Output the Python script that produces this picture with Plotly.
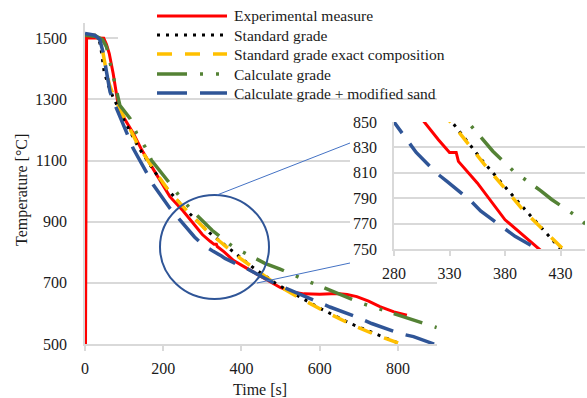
import plotly.graph_objects as go

W, H = 587, 398

# ---------------- data ----------------
exp_t = [0, 4, 48, 55, 62, 72, 83, 98, 123, 145, 166, 190, 217, 251, 280, 300, 320, 330, 336, 338,
         355, 380, 412, 440, 470, 499, 530, 560, 600, 644, 670, 695, 725, 754, 790, 823]
exp_T = [20, 1502, 1500, 1480, 1450, 1385, 1297, 1243, 1190, 1135, 1090, 1040, 982, 935, 890, 858, 836, 826, 826, 819,
         802, 773, 749, 729, 706, 685, 670, 664, 663, 665, 662, 655, 640, 622, 605, 594]

std_t = [0, 20, 35, 40, 49, 60, 71, 98, 136, 175, 213, 256, 318, 334, 361, 397, 428, 490, 547, 605, 682, 743, 803]
std_T = [1510, 1512, 1500, 1474, 1390, 1345, 1310, 1237, 1145, 1069, 1003, 941, 864, 848, 818, 782, 752, 696, 655, 614, 565, 533, 502]

sec_t = [0, 25, 38, 45, 52, 62, 75, 100, 136, 175, 213, 256, 318, 334, 361, 397, 430, 490, 547, 605, 682, 743, 808]
sec_T = [1510, 1510, 1495, 1460, 1410, 1350, 1305, 1240, 1150, 1072, 1003, 942, 862, 847, 817, 780, 750, 694, 652, 612, 563, 530, 500]

cal_t = [0, 30, 45, 55, 64, 72, 89, 115, 132, 153, 170, 217, 243, 271, 298, 325, 352, 369, 388, 401, 412, 422,
         444, 460, 499, 531, 565, 605, 642, 710, 750, 788, 827, 899]
cal_T = [1510, 1506, 1495, 1472, 1422, 1374, 1281, 1238, 1189, 1146, 1101, 1025, 981, 940, 905, 872, 845, 827, 811, 803, 796, 789,
         776, 764, 745, 726, 708, 687, 668, 632, 616, 600, 584, 554]

mod_t = [0, 25, 38, 47, 55, 64, 77, 94, 107, 123, 158, 175, 217, 243, 280, 300, 318, 328, 349, 358, 379, 389,
         409, 425, 460, 494, 524, 592, 626, 699, 733, 806, 840, 899]
mod_T = [1516, 1510, 1495, 1450, 1390, 1325, 1281, 1232, 1190, 1140, 1058, 1020, 944, 905, 850, 826, 810, 803, 788, 780, 767, 760,
         750, 738, 715, 693, 676, 638, 621, 586, 567, 534, 524, 497]

names = ["Experimental measure", "Standard grade", "Standard grade exact composition",
         "Calculate grade", "Calculate grade + modified sand"]
xs = [exp_t, std_t, sec_t, cal_t, mod_t]
ys = [exp_T, std_T, sec_T, cal_T, mod_T]
colors = ["#FF0000", "#000000", "#FFC000", "#548235", "#2F5597"]
dashes = ["solid", "3px,6px", "15px,13px", "30px,13px,3px,13px,3px,12px", "30px,13px"]
widths = [3, 3, 3.5, 3.5, 3.5]

main_xticks = [0, 200, 400, 600, 800]
main_yticks = [500, 700, 900, 1100, 1300, 1500]
inset_xticks = [280, 330, 380, 430]
inset_yticks = [750, 770, 790, 810, 830, 850]

# ---------------- layout geometry ----------------
MX0, MX1, MY0, MY1 = 85, 437, 344, 23          # main plot area (px)
IX0, IX1, IY0, IY1 = 394, 585, 249, 122        # inset plot area (px)
XR = [0, 900]
YR = [500, 1550]

def px_x(p):
    return XR[0] + (p - MX0) / (MX1 - MX0) * (XR[1] - XR[0])

def px_y(p):
    return YR[0] + (MY0 - p) / (MY0 - MY1) * (YR[1] - YR[0])

FONT = "Liberation Serif"
TXT = "#1a1a1a"
GRID = "#D9D9D9"

fig = go.Figure()
for n, x, y, c, d, w in zip(names, xs, ys, colors, dashes, widths):
    fig.add_trace(go.Scatter(x=x, y=y, mode="lines", name=n, showlegend=False,
                             line=dict(color=c, dash=d, width=w), xaxis="x", yaxis="y"))
for n, x, y, c, d, w in zip(names, xs, ys, colors, dashes, widths):
    fig.add_trace(go.Scatter(x=x, y=y, mode="lines", name=n, showlegend=False,
                             line=dict(color=c, dash=d, width=w), xaxis="x2", yaxis="y2"))

shapes = []
# white boxes hiding main gridlines behind the legend and the inset labels
shapes.append(dict(type="rect", xref="x", yref="y", x0=px_x(118), x1=900, y0=px_y(97), y1=1550,
                   fillcolor="white", line=dict(width=0), layer="between"))
shapes.append(dict(type="rect", xref="x", yref="y", x0=px_x(350), x1=900, y0=px_y(280), y1=px_y(103),
                   fillcolor="white", line=dict(width=0), layer="between"))
# zoom circle and connectors
shapes.append(dict(type="circle", xref="x", yref="y", x0=px_x(160), x1=px_x(269), y0=px_y(299), y1=px_y(195),
                   line=dict(color="#2F5597", width=2), layer="above"))
shapes.append(dict(type="line", xref="x", yref="y", x0=px_x(217), y0=px_y(195), x1=px_x(350), y1=px_y(143),
                   line=dict(color="#4472C4", width=1), layer="above"))
shapes.append(dict(type="line", xref="x", yref="y", x0=px_x(257), y0=px_y(283), x1=px_x(350), y1=px_y(263),
                   line=dict(color="#4472C4", width=1), layer="above"))

annotations = []
# manual legend
rows = [16, 35, 54, 74, 93]
for n, c, d, w, r in zip(names, colors, dashes, widths, rows):
    shapes.append(dict(type="line", xref="paper", yref="paper", x0=157 / W, x1=227 / W,
                       y0=1 - r / H, y1=1 - r / H, line=dict(color=c, dash=d, width=w), layer="above"))
    annotations.append(dict(xref="paper", yref="paper", x=232 / W, y=1 - r / H, text=n, showarrow=False,
                            xanchor="left", yanchor="middle", font=dict(family=FONT, size=15.5, color=TXT)))

# axis titles
annotations.append(dict(xref="paper", yref="paper", x=22 / W, y=1 - 190 / H, text="Temperature [°C]",
                        textangle=-90, showarrow=False, xanchor="center", yanchor="middle",
                        font=dict(family=FONT, size=16, color=TXT)))
annotations.append(dict(xref="paper", yref="paper", x=260 / W, y=1 - 389 / H, text="Time [s]",
                        showarrow=False, xanchor="center", yanchor="middle",
                        font=dict(family=FONT, size=16, color=TXT)))

tickfont = dict(family=FONT, size=16, color=TXT)

fig.update_layout(
    width=W, height=H, margin=dict(l=0, r=0, t=0, b=0, autoexpand=False),
    paper_bgcolor="white", plot_bgcolor="white",
    showlegend=False,
    shapes=shapes, annotations=annotations,
    xaxis=dict(domain=[MX0 / W, MX1 / W], range=XR, tickvals=main_xticks, showgrid=False,
               showline=True, linecolor=GRID, linewidth=1.5, ticks="outside", ticklen=5,
               tickcolor=GRID, tickwidth=1.5, zeroline=False, tickfont=tickfont, anchor="y",
               ticklabelstandoff=4, automargin=False),
    yaxis=dict(domain=[1 - MY0 / H, 1 - MY1 / H], range=YR, tickvals=main_yticks, showgrid=True,
               gridcolor=GRID, gridwidth=1.5, showline=True, linecolor=GRID, linewidth=1.5,
               ticks="", zeroline=False, tickfont=tickfont, anchor="x", ticklabelstandoff=13,
               automargin=False),
    xaxis2=dict(domain=[IX0 / W, IX1 / W], range=[280, 452], tickvals=inset_xticks, showgrid=False,
                showline=True, linecolor=GRID, linewidth=1.5, ticks="outside", ticklen=5,
                tickcolor=GRID, tickwidth=1.5, zeroline=False, tickfont=tickfont, anchor="y2",
                ticklabelstandoff=4, automargin=False),
    yaxis2=dict(domain=[1 - IY0 / H, 1 - IY1 / H], range=[750, 850], tickvals=inset_yticks, showgrid=True,
                gridcolor=GRID, gridwidth=1.5, showline=True, linecolor=GRID, linewidth=1.5,
                ticks="", zeroline=False, tickfont=tickfont, anchor="x2", ticklabelstandoff=12,
                automargin=False),
)

fig.write_html("out.html", post_script="document.body.style.margin='0';document.body.style.overflow='hidden';")
